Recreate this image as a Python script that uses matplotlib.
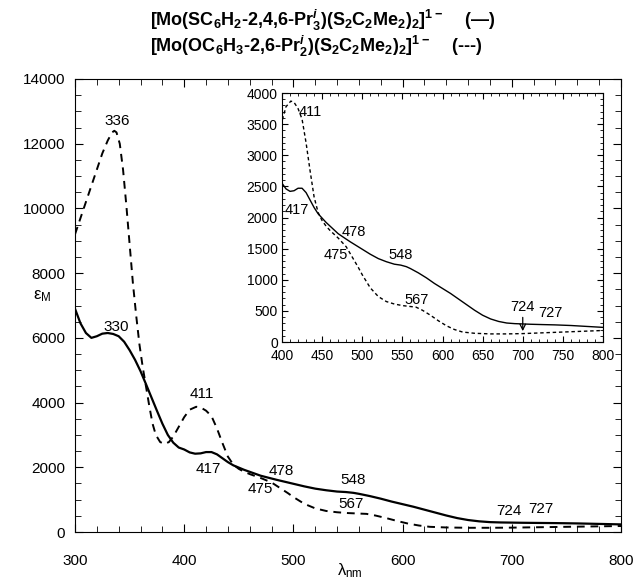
import matplotlib
matplotlib.use("Agg")
import matplotlib.pyplot as plt
from matplotlib.ticker import MultipleLocator

plt.rcParams['font.family'] = ['Liberation Sans', 'DejaVu Sans']
plt.rcParams['mathtext.fontset'] = 'custom'
plt.rcParams['mathtext.rm'] = 'Liberation Sans'
plt.rcParams['mathtext.it'] = 'Liberation Sans:italic:bold'
plt.rcParams['mathtext.default'] = 'regular'

# Series 1: [Mo(SC6H2-2,4,6-Pri3)(S2C2Me2)2]1- (solid)
wl_s = [300, 305, 310, 315, 320, 325, 330, 335, 340, 345, 350, 355, 360, 365, 370,
        375, 380, 385, 390, 395, 400, 405, 410, 415, 420, 425, 430, 435, 440, 445,
        450, 455, 460, 465, 470, 478, 485, 490, 500, 510, 520, 530, 540, 548, 555,
        560, 570, 580, 590, 600, 610, 620, 630, 640, 650, 660, 670, 680, 690, 700,
        710, 724, 740, 760, 780, 800]
eps_s = [6900, 6450, 6150, 6000, 6050, 6130, 6150, 6120, 6050, 5880, 5620, 5320, 4970, 4570, 4160,
         3750, 3350, 3000, 2760, 2610, 2550, 2460, 2420, 2430, 2470, 2470, 2400, 2280, 2160, 2060,
         1990, 1920, 1860, 1800, 1740, 1670, 1610, 1570, 1490, 1410, 1340, 1290, 1250, 1235, 1210,
         1180, 1110, 1030, 940, 860, 780, 690, 600, 510, 430, 370, 330, 305, 295, 290,
         285, 280, 275, 265, 250, 235]

# Series 2: [Mo(OC6H3-2,6-Pri2)(S2C2Me2)2]1- (dashed)
wl_o = [300, 305, 310, 315, 320, 325, 330, 334, 336, 338, 341, 344, 347, 350, 353,
        356, 359, 362, 365, 368, 371, 374, 378, 382, 386, 390, 395, 400, 405, 411, 415,
        420, 425, 430, 435, 440, 445, 450, 455, 460, 465, 470, 475, 480, 485, 490,
        495, 500, 510, 520, 530, 540, 550, 560, 567, 575, 585, 595, 605, 615, 625,
        640, 660, 680, 700, 720, 740, 760, 780, 800]
eps_o = [9200, 9700, 10200, 10700, 11200, 11700, 12100, 12350, 12400, 12350, 12000, 11200, 10100, 8900, 7700,
         6700, 5800, 5100, 4500, 3900, 3350, 3000, 2780, 2720, 2780, 2950, 3250, 3550, 3780, 3870, 3850,
         3750, 3580, 3200, 2750, 2330, 2080, 1950, 1860, 1790, 1730, 1670, 1600, 1530, 1420, 1310,
         1200, 1080, 870, 730, 650, 610, 585, 570, 560, 510, 430, 340, 260, 200, 160,
         140, 130, 130, 135, 145, 155, 165, 175, 185]

main_peaks = [("336", 339, 12700), ("330", 338, 6330), ("411", 416, 4250), ("417", 422, 1950),
              ("478", 489, 1900), ("475", 470, 1330), ("548", 555, 1600), ("567", 553, 870),
              ("724", 697, 640), ("727", 727, 700)]

W, H = 638, 581
fig = plt.figure(figsize=(W/100, H/100), dpi=100)
ax = fig.add_axes([75/W, 1-532/H, 546/W, 453/H])
ax.plot(wl_s, eps_s, color='black', lw=1.6, ls='-')
ax.plot(wl_o, eps_o, color='black', lw=1.4, ls=(0, (4, 3)))
ax.set_xlim(300, 800)
ax.set_ylim(0, 14000)
ax.xaxis.set_major_locator(MultipleLocator(100))
ax.xaxis.set_minor_locator(MultipleLocator(20))
ax.yaxis.set_major_locator(MultipleLocator(2000))
ax.yaxis.set_minor_locator(MultipleLocator(500))
ax.tick_params(which='both', direction='in', top=True, right=True, labelsize=11)
ax.tick_params(axis='x', which='major', length=6, pad=16)
ax.tick_params(axis='x', which='minor', length=4)
ax.tick_params(axis='y', which='major', length=6, pad=7)
ax.tick_params(axis='y', which='minor', length=4)
for lab, x, y in main_peaks:
    ax.text(x, y, lab, ha='center', va='center', fontsize=11)

fig.text(42/W, 1-296/H, r'ε$_\mathregular{M}$', ha='center', va='center', fontsize=12)
fig.text(350/W, 1-571/H, r'λ$_\mathregular{nm}$', ha='center', va='center', fontsize=12)

fig.text(150/W, 1-20/H,
         r'[Mo(SC$_6$H$_2$-2,4,6-Pr$^{\mathit{i}}_3$)(S$_2$C$_2$Me$_2$)$_2$]$^{1-}$    (—)',
         ha='left', va='center', fontsize=13, fontweight='bold')
fig.text(150/W, 1-46/H,
         r'[Mo(OC$_6$H$_3$-2,6-Pr$^{\mathit{i}}_2$)(S$_2$C$_2$Me$_2$)$_2$]$^{1-}$    (---)',
         ha='left', va='center', fontsize=13, fontweight='bold')

inset_peaks = [("411", 421, 3700, 'left'), ("417", 418, 2120, 'center'), ("478", 490, 1770, 'center'),
               ("475", 467, 1390, 'center'), ("548", 548, 1390, 'center'), ("567", 568, 675, 'center'),
               ("724", 699, 570, 'center'), ("727", 734, 460, 'center')]

axi = fig.add_axes([282/W, 1-342/H, 321/W, 249/H])
axi.plot(wl_s, eps_s, color='black', lw=1.0, ls='-')
axi.plot(wl_o, eps_o, color='black', lw=1.0, ls=(0, (2.5, 2)))
axi.set_xlim(400, 800)
axi.set_ylim(0, 4000)
axi.xaxis.set_major_locator(MultipleLocator(50))
axi.xaxis.set_minor_locator(MultipleLocator(10))
axi.yaxis.set_major_locator(MultipleLocator(500))
axi.yaxis.set_minor_locator(MultipleLocator(100))
axi.tick_params(which='both', direction='in', top=True, right=True, labelsize=10)
axi.tick_params(which='major', length=4)
axi.tick_params(axis='x', which='major', pad=5)
axi.tick_params(axis='y', which='major', pad=3)
axi.tick_params(which='minor', length=2)
for lab, x, y, ha in inset_peaks:
    axi.text(x, y, lab, ha=ha, va='center', fontsize=10.5)
axi.annotate('', xy=(700, 130), xytext=(700, 440),
             arrowprops=dict(arrowstyle='->', color='black', lw=0.9))

fig.savefig('out.png', dpi=100)
